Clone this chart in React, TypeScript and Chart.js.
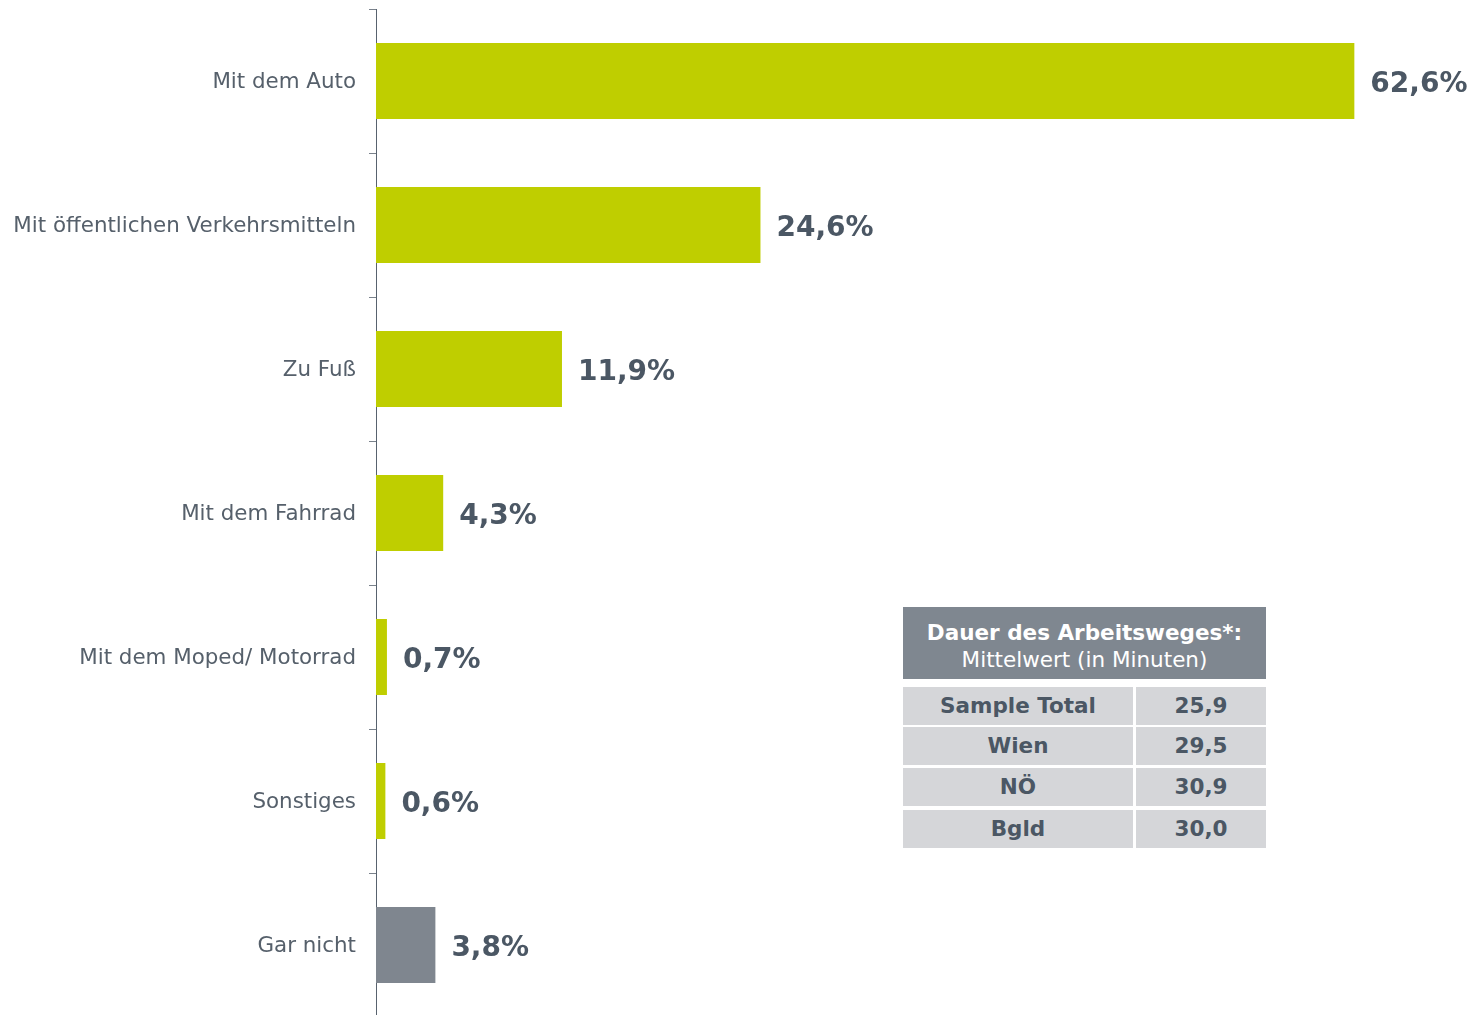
import React, { useEffect, useRef } from "react";
import { Chart, registerables } from "chart.js";

Chart.register(...registerables);

const categories = [
  "Mit dem Auto",
  "Mit öffentlichen Verkehrsmitteln",
  "Zu Fuß",
  "Mit dem Fahrrad",
  "Mit dem Moped/ Motorrad",
  "Sonstiges",
  "Gar nicht",
];
const shares = [62.6, 24.6, 11.9, 4.3, 0.7, 0.6, 3.8];
const barColors = ["#bfce00", "#bfce00", "#bfce00", "#bfce00", "#bfce00", "#bfce00", "#7f868f"];

const tableTitle = "Dauer des Arbeitsweges*:";
const tableSubtitle = "Mittelwert (in Minuten)";
const tableRegions = ["Sample Total", "Wien", "NÖ", "Bgld"];
const tableMeans = ["25,9", "29,5", "30,9", "30,0"];

const FONT = "'DejaVu Sans', Verdana, sans-serif";

const valueLabelPlugin = {
  id: "valueLabels",
  afterDatasetsDraw(chart: any) {
    const ctx = chart.ctx;
    const meta = chart.getDatasetMeta(0);
    ctx.save();
    ctx.font = `bold 28px ${FONT}`;
    ctx.fillStyle = "#4b5764";
    ctx.textAlign = "left";
    ctx.textBaseline = "alphabetic";
    meta.data.forEach((bar: any, i: number) => {
      const v = shares[i];
      const txt = v.toFixed(1).replace(".", ",") + "%";
      ctx.fillText(txt, bar.x + 16, bar.y + 10.6);
    });
    ctx.restore();
  },
};

export default function App() {
  const ref = useRef<HTMLCanvasElement>(null);

  useEffect(() => {
    if (!ref.current) return;
    const chart = new Chart(ref.current, {
      type: "bar",
      data: {
        labels: categories,
        datasets: [
          {
            data: shares,
            backgroundColor: barColors,
            borderWidth: 0,
            barPercentage: 0.528,
            categoryPercentage: 1,
          },
        ],
      },
      options: {
        indexAxis: "y",
        responsive: false,
        animation: false,
        layout: { padding: { top: 9, right: 9, bottom: 1, left: 0 } },
        plugins: {
          legend: { display: false },
          tooltip: { enabled: false },
        },
        scales: {
          x: {
            display: false,
            min: 0,
            max: 70,
          },
          y: {
            afterFit(scale: any) {
              scale.width = 376;
              scale.paddingTop = 0;
              scale.paddingBottom = 0;
            },
            border: { display: true, color: "#58626e", width: 1 },
            grid: {
              drawOnChartArea: false,
              drawTicks: true,
              tickLength: 7,
              color: "#7a828c",
              offset: true,
            },
            ticks: {
              padding: 13,
              labelOffset: 1.5,
              color: "#56606b",
              font: { family: FONT, size: 21.4 },
            },
          },
        },
      },
      plugins: [valueLabelPlugin],
    });
    return () => chart.destroy();
  }, []);

  const cellBase: React.CSSProperties = {
    position: "absolute",
    background: "#d5d6d9",
    color: "#4b5764",
    fontFamily: FONT,
    fontWeight: "bold",
    fontSize: 21.5,
    display: "flex",
    alignItems: "center",
    justifyContent: "center",
    lineHeight: 1,
  };
  const rowTops = [687, 727, 768, 810];
  const rowH = 38;

  return (
    <div
      style={{
        position: "absolute",
        left: 0,
        top: 0,
        width: 1479,
        height: 1015,
        overflow: "hidden",
        background: "#ffffff",
      }}
    >
      <canvas ref={ref} width={1479} height={1018} style={{ display: "block" }} />
      <div
        style={{
          position: "absolute",
          left: 903,
          top: 607,
          width: 363,
          height: 72,
          background: "#7f8790",
          color: "#ffffff",
          fontFamily: FONT,
          textAlign: "center",
        }}
      >
        <div style={{ position: "absolute", left: 0, right: 0, top: 12, fontWeight: "bold", fontSize: 21.5, lineHeight: "27px" }}>
          {tableTitle}
        </div>
        <div style={{ position: "absolute", left: 0, right: 0, top: 39, fontSize: 21.5, lineHeight: "27px" }}>
          {tableSubtitle}
        </div>
      </div>
      {tableRegions.map((r, i) => (
        <React.Fragment key={r}>
          <div style={{ ...cellBase, left: 903, top: rowTops[i], width: 230, height: rowH }}>{r}</div>
          <div style={{ ...cellBase, left: 1136, top: rowTops[i], width: 130, height: rowH }}>{tableMeans[i]}</div>
        </React.Fragment>
      ))}
    </div>
  );
}
